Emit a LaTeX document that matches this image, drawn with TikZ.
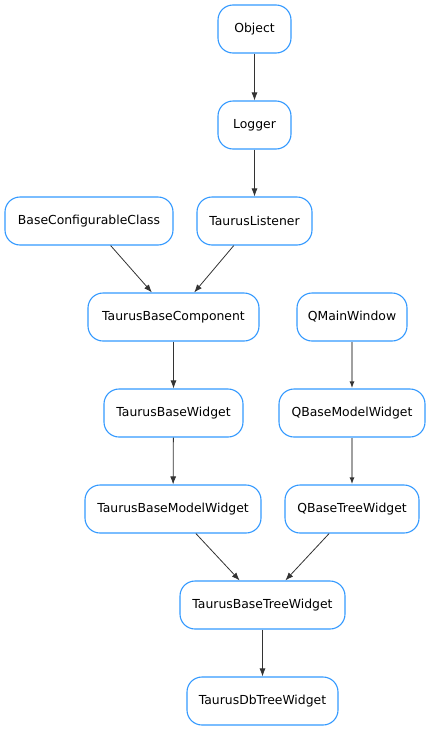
\documentclass[tikz,border=0pt]{standalone}
\usepackage{fontspec}
\setmainfont{DejaVu Sans}
\usetikzlibrary{arrows.meta}
\definecolor{clsblue}{RGB}{51,153,255}
\definecolor{edgedark}{RGB}{51,51,51}
\definecolor{edgegray}{RGB}{160,160,160}

\begin{document}
\begin{tikzpicture}[x=1pt, y=-1pt,
    cls/.style = {draw=clsblue, line width=1.1pt, rounded corners=15pt,
                minimum width=#1, minimum height=48pt,
                inner sep=0pt, font=\fontsize{12.4}{14}\selectfont},
    cls/.default = 80pt,
    inh/.style = {edgedark, line width=0.8pt, -{Latex[length=8pt,width=6pt]}},
    qinh/.style = {edgegray, line width=2pt, -{Latex[length=7pt,width=5pt,color=edgedark]}}
                    ]
        \useasboundingbox (0,0) rectangle (430,731);
        \foreach \x/\y/\w/\n/\t in {254.5/29/73/obj/Object,
                254.5/125/73/log/Logger,
                89/221/168/bcc/BaseConfigurableClass,
                254.5/221/115/tl/TaurusListener,
                173.5/317/171/tbc/TaurusBaseComponent,
                352/317/110/qmw/QMainWindow,
                173.5/413/139/tbw/TaurusBaseWidget,
                352/413/146/qbmw/QBaseModelWidget,
                173/509/176/tbmw/TaurusBaseModelWidget,
                352/509/134/qbtw/QBaseTreeWidget,
                262.5/605/165/tbtw/TaurusBaseTreeWidget,
                262.5/701/151/tdtw/TaurusDbTreeWidget}
            \node[cls=\w pt] at (\x,\y) (\n) {\t};
        \draw [inh] (obj) -- (log);
        \draw [inh] (log) -- (tl);
        \draw [inh] (bcc) -- (tbc);
        \draw [inh] (tl) -- (tbc);
        \draw [inh] (tbc) -- (tbw);
        \draw [inh] (tbw) -- (tbmw);
        \draw [qinh] (qmw) -- (qbmw);
        \draw [qinh] (qbmw) -- (qbtw);
        \draw [inh] (tbmw) -- (tbtw);
        \draw [inh] (qbtw) -- (tbtw);
        \draw [inh] (tbtw) -- (tdtw);
    \end{tikzpicture}
\end{document}
